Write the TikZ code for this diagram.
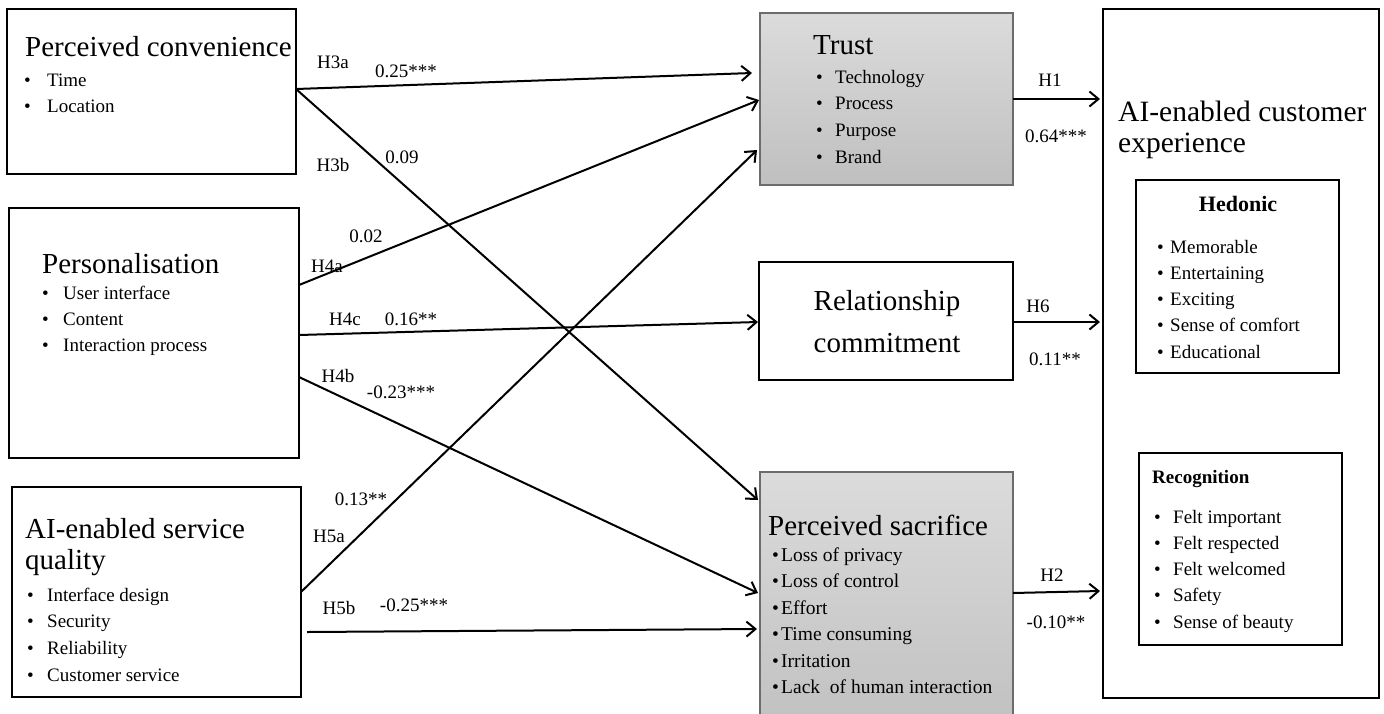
\documentclass[tikz,border=0pt]{standalone}
\usepackage{fontspec}
\setmainfont{Liberation Serif}
\usetikzlibrary{arrows.meta}
\newcommand\bitem[2]{\makebox[#1][l]{•}#2}
\begin{document}
\begin{tikzpicture}[x=1pt,y=-1pt,
 box/.style={draw=black, line width=1.4pt, anchor=north west, inner sep=0, outer sep=0},
 gbox/.style={box, draw=gray!85!black, top color=gray!28, bottom color=gray!50},
 ttl/.style={font=\fontsize{29}{34}\selectfont, anchor=base west, inner sep=0},
 ttlc/.style={font=\fontsize{29}{34}\selectfont, anchor=base, inner sep=0},
 itm/.style={font=\fontsize{19}{23}\selectfont, anchor=base west, inner sep=0},
 sitm/.style={font=\fontsize{19.5}{23}\selectfont, anchor=base west, inner sep=0},
 lbl/.style={font=\fontsize{19}{23}\selectfont, inner sep=0},
 conn/.style={line width=2pt, -{Straight Barb[length=9pt,width=15pt,line width=2pt]}}]
\useasboundingbox (0,0) rectangle (1384,713);
\fill[white] (0,0) rectangle (1384,713);
\clip (0,0) rectangle (1384,713);
% boxes
\node[box, minimum width=289pt, minimum height=165pt] (pc) at (7,9) {};
\node[box, minimum width=290pt, minimum height=250pt] (pers) at (9,208) {};
\node[box, minimum width=289pt, minimum height=210pt] (aisq) at (12,487) {};
\node[gbox, minimum width=253pt, minimum height=172pt] (trust) at (760,13) {};
\node[box, minimum width=254pt, minimum height=118pt] (rel) at (759,262) {};
\node[gbox, minimum width=253pt, minimum height=270pt] (sac) at (760,472) {};
\node[box, minimum width=276pt, minimum height=689pt] (cx) at (1103,9) {};
\node[box, minimum width=203pt, minimum height=193pt] (hed) at (1136,180) {};
\node[box, minimum width=203pt, minimum height=192pt] (rec) at (1139,453) {};
% texts: perceived convenience
\node[ttl] (pct) at (25,56) {Perceived convenience};
\node[itm] (pc1) at (24,86) {\bitem{23pt}{Time}};
\node[itm] (pc2) at (24,112) {\bitem{23pt}{Location}};
% personalisation
\node[ttl] (pst) at (42,273) {Personalisation};
\node[itm] (ps1) at (42,299) {\bitem{21pt}{User interface}};
\node[itm] (ps2) at (42,325) {\bitem{21pt}{Content}};
\node[itm] (ps3) at (42,351) {\bitem{21pt}{Interaction process}};
% AI-enabled service quality
\node[ttl] (aqt1) at (25,538) {AI-enabled service};
\node[ttl] (aqt2) at (25,569) {quality};
\node[itm] (aq1) at (27,601) {\bitem{20pt}{Interface design}};
\node[itm] (aq2) at (27,627.7) {\bitem{20pt}{Security}};
\node[itm] (aq3) at (27,654.3) {\bitem{20pt}{Reliability}};
\node[itm] (aq4) at (27,681) {\bitem{20pt}{Customer service}};
% trust
\node[ttl] (trt) at (813,54) {Trust};
\node[itm] (tr1) at (816,83) {\bitem{19pt}{Technology}};
\node[itm] (tr2) at (816,109.7) {\bitem{19pt}{Process}};
\node[itm] (tr3) at (816,136.3) {\bitem{19pt}{Purpose}};
\node[itm] (tr4) at (816,163) {\bitem{19pt}{Brand}};
% relationship commitment
\node[ttlc] (rlt1) at (887,310) {Relationship};
\node[ttlc] (rlt2) at (887,352) {commitment};
% perceived sacrifice
\node[ttl] (sct) at (768,535) {Perceived sacrifice};
\node[sitm] (sc1) at (772,561) {\bitem{9pt}{Loss of privacy}};
\node[sitm] (sc2) at (772,587.5) {\bitem{9pt}{Loss of control}};
\node[sitm] (sc3) at (772,614) {\bitem{9pt}{Effort}};
\node[sitm] (sc4) at (772,640.5) {\bitem{9pt}{Time consuming}};
\node[sitm] (sc5) at (772,667) {\bitem{9pt}{Irritation}};
\node[sitm] (sc6) at (772,693.5) {\bitem{9pt}{Lack\ \ of human interaction}};
% customer experience
\node[font=\fontsize{29.5}{34}\selectfont, anchor=base west, inner sep=0] (cxt1) at (1118,121) {AI-enabled customer};
\node[font=\fontsize{29.5}{34}\selectfont, anchor=base west, inner sep=0] (cxt2) at (1118,152) {experience};
\node[font=\fontsize{22}{26}\selectfont\bfseries, anchor=base, inner sep=0] (hdt) at (1238,211) {Hedonic};
\node[itm] (hd1) at (1157,253) {\bitem{13pt}{Memorable}};
\node[itm] (hd2) at (1157,279) {\bitem{13pt}{Entertaining}};
\node[itm] (hd3) at (1157,305.5) {\bitem{13pt}{Exciting}};
\node[itm] (hd4) at (1157,331.75) {\bitem{13pt}{Sense of comfort}};
\node[itm] (hd5) at (1157,358) {\bitem{13pt}{Educational}};
\node[font=\fontsize{19}{23}\selectfont\bfseries, anchor=base west, inner sep=0] (rct) at (1152,483) {Recognition};
\node[itm] (rc1) at (1154,523) {\bitem{19pt}{Felt important}};
\node[itm] (rc2) at (1154,549) {\bitem{19pt}{Felt respected}};
\node[itm] (rc3) at (1154,575.5) {\bitem{19pt}{Felt welcomed}};
\node[itm] (rc4) at (1154,601.5) {\bitem{19pt}{Safety}};
\node[itm] (rc5) at (1154,628) {\bitem{19pt}{Sense of beauty}};
% connectors
\draw[conn] ([yshift=-80pt]pc.north east) -- ([xshift=-8pt,yshift=-60pt]trust.north west);
\draw[conn] ([yshift=-80pt]pc.north east) -- ([xshift=-2pt,yshift=-28pt]sac.north west);
\draw[conn] ([yshift=-77pt]pers.north east) -- ([xshift=-1pt,yshift=-87pt]trust.north west);
\draw[conn] ([yshift=-127pt]pers.north east) -- ([xshift=-1pt,yshift=-60pt]rel.north west);
\draw[conn] ([yshift=-169pt]pers.north east) -- ([xshift=-2pt,yshift=-121pt]sac.north west);
\draw[conn] ([yshift=-105pt]aisq.north east) -- ([xshift=-3pt,yshift=-137pt]trust.north west);
\draw[conn] ([xshift=6pt,yshift=-145pt]aisq.north east) -- ([xshift=-3pt,yshift=-157pt]sac.north west);
\draw[conn] ([yshift=-86pt]trust.north east) -- ([xshift=-3pt,yshift=-90pt]cx.north west);
\draw[conn] ([yshift=-60pt]rel.north east) -- ([xshift=-3pt,yshift=-313pt]cx.north west);
\draw[conn] ([yshift=-121pt]sac.north east) -- ([xshift=-3pt,yshift=-582pt]cx.north west);
% labels
\node[lbl] (l1) at (333,62) {H3a};
\node[lbl] (l2) at (406,71) {0.25***};
\node[lbl] (l3) at (333,165) {H3b};
\node[lbl] (l4) at (402,157) {0.09};
\node[lbl] (l5) at (366,236) {0.02};
\node[lbl] (l6) at (327,266) {H4a};
\node[lbl] (l7) at (345,319) {H4c};
\node[lbl] (l8) at (411,319) {0.16**};
\node[lbl] (l9) at (338,376) {H4b};
\node[lbl] (l10) at (401,392) {-0.23***};
\node[lbl] (l11) at (361,499) {0.13**};
\node[lbl] (l12) at (329,536) {H5a};
\node[lbl] (l13) at (339,608) {H5b};
\node[lbl] (l14) at (414,605) {-0.25***};
\node[lbl] (l15) at (1050,80) {H1};
\node[lbl] (l16) at (1056,136) {0.64***};
\node[lbl] (l17) at (1038,306) {H6};
\node[lbl] (l18) at (1055,359) {0.11**};
\node[lbl] (l19) at (1052,575) {H2};
\node[lbl] (l20) at (1056,622) {-0.10**};
\end{tikzpicture}
\end{document}
